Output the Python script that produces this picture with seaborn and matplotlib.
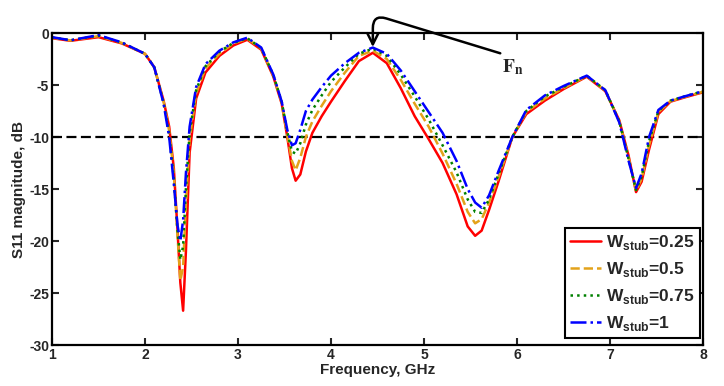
import numpy as np
import pandas as pd
import matplotlib
matplotlib.use("Agg")
import matplotlib.pyplot as plt
import seaborn as sns

# Dados (S11 em dB)
freq = [1.0, 1.2, 1.5, 1.75, 2.0, 2.1, 2.2, 2.26, 2.31, 2.35, 2.38, 2.41, 2.44, 2.48,
        2.55, 2.65, 2.8, 2.95, 3.1, 3.25, 3.38, 3.47, 3.53, 3.58, 3.62, 3.67, 3.73, 3.8,
        3.9, 4.0, 4.15, 4.3, 4.45, 4.6, 4.75, 4.9, 5.05, 5.2, 5.35, 5.47, 5.55, 5.62,
        5.7, 5.8, 5.95, 6.1, 6.3, 6.5, 6.75, 6.95, 7.1, 7.2, 7.28, 7.34, 7.42, 7.52,
        7.65, 7.8, 8.0]

s11_025 = [-0.5, -0.75, -0.4, -1.0, -2.0, -3.3, -6.5, -9.0, -13.0, -19.0, -24.0, -26.7, -21.0, -11.5,
           -6.3, -3.8, -2.2, -1.2, -0.65, -1.6, -4.2, -6.8, -10.0, -13.0, -14.2, -13.6, -11.4, -9.6,
           -8.0, -6.6, -4.6, -2.7, -1.9, -2.9, -5.3, -8.0, -10.2, -12.5, -15.5, -18.6, -19.5, -19.0,
           -17.0, -14.3, -10.0, -7.8, -6.5, -5.4, -4.2, -5.6, -8.4, -11.8, -15.3, -14.3, -11.2, -7.8,
           -6.6, -6.2, -5.7]

s11_05 = [-0.45, -0.72, -0.3, -0.95, -2.0, -3.3, -6.6, -9.4, -13.5, -19.5, -23.8, -22.5, -16.5, -10.2,
          -5.8, -3.4, -2.0, -1.0, -0.55, -1.5, -4.1, -6.7, -9.8, -12.3, -13.2, -12.0, -10.0, -8.5,
          -7.0, -5.6, -3.8, -2.2, -1.7, -2.5, -4.5, -6.8, -9.0, -11.6, -14.5, -17.2, -18.3, -17.9,
          -16.3, -13.9, -10.0, -7.6, -6.3, -5.3, -4.15, -5.55, -8.5, -12.0, -15.2, -14.0, -10.8, -7.6,
          -6.55, -6.15, -5.65]

s11_075 = [-0.42, -0.7, -0.25, -0.92, -2.0, -3.3, -6.7, -9.7, -14.0, -19.0, -21.8, -20.5, -15.0, -9.6,
           -5.5, -3.2, -1.8, -0.95, -0.5, -1.45, -4.05, -6.6, -9.5, -11.4, -11.6, -10.6, -8.8, -7.4,
           -6.0, -4.7, -3.3, -2.0, -1.5, -2.2, -4.0, -6.1, -8.3, -10.8, -13.4, -16.0, -17.2, -17.3,
           -16.0, -13.6, -10.0, -7.5, -6.1, -5.2, -4.1, -5.5, -8.5, -12.1, -15.1, -13.8, -10.4, -7.5,
           -6.5, -6.1, -5.6]

s11_1 = [-0.4, -0.7, -0.2, -0.9, -2.0, -3.3, -6.8, -10.0, -14.5, -18.5, -20.0, -18.0, -13.5, -9.0,
         -5.2, -3.0, -1.7, -0.9, -0.45, -1.4, -4.0, -6.6, -9.3, -10.8, -10.6, -9.3, -7.5, -6.4,
         -5.2, -4.1, -2.9, -1.9, -1.4, -2.0, -3.6, -5.6, -7.6, -9.6, -12.3, -15.0, -16.3, -16.8,
         -15.6, -13.3, -10.0, -7.4, -6.0, -5.1, -4.1, -5.5, -8.6, -12.3, -14.9, -13.5, -10.0, -7.4,
         -6.5, -6.1, -5.6]

series = [
    (r"W$_{\mathbf{stub}}$=0.25", s11_025, "#ff0000", "-"),
    (r"W$_{\mathbf{stub}}$=0.5", s11_05, "#e3a21a", "--"),
    (r"W$_{\mathbf{stub}}$=0.75", s11_075, "#008000", ":"),
    (r"W$_{\mathbf{stub}}$=1", s11_1, "#0000ff", "-."),
]

sns.set_style("ticks")
plt.rcParams["font.family"] = ["Liberation Sans", "DejaVu Sans"]
plt.rcParams["font.weight"] = "bold"
plt.rcParams["axes.unicode_minus"] = False
plt.rcParams["mathtext.fontset"] = "custom"
plt.rcParams["mathtext.rm"] = "Liberation Sans:bold"
plt.rcParams["mathtext.bf"] = "Liberation Sans:bold"

fig = plt.figure(figsize=(7.24, 3.86), dpi=100)
ax = fig.add_axes([0.0718, 0.1062, 0.8992, 0.8083])

for nome, vals, cor, estilo in series:
    df = pd.DataFrame({"f": freq, "s11": vals})
    sns.lineplot(data=df, x="f", y="s11", color=cor, linestyle=estilo, lw=1.8,
                 label=nome, ax=ax, sort=False)

ax.axhline(-10, color="black", lw=1.6, ls="--", dashes=(4.5, 2), zorder=1)

ax.set_xlim(1, 8)
ax.set_ylim(-30, 0)
ax.set_xticks(range(1, 9))
ax.set_yticks(range(-30, 1, 5))
ax.tick_params(direction="in", top=True, right=True, length=5, width=1.5,
               labelsize=10, pad=2)
for sp in ax.spines.values():
    sp.set_linewidth(1.6)
    sp.set_color("black")
ax.set_xlabel("Frequency, GHz", fontsize=11, fontweight="bold", labelpad=1)
ax.set_ylabel("S11 magnitude, dB", fontsize=11, fontweight="bold", labelpad=2)

# Anotação F_n
ax.annotate("", xy=(4.45, -1.35), xytext=(5.82, -1.95), annotation_clip=False,
            arrowprops=dict(arrowstyle="->", color="black", lw=1.8, mutation_scale=20,
                            connectionstyle="angle,angleA=163,angleB=90,rad=14",
                            shrinkA=0, shrinkB=0))
ax.text(5.95, -3.3, r"$\mathrm{F_n}$", fontsize=14, ha="center", va="center",
        math_fontfamily="stix")

leg = ax.legend(loc="lower right", bbox_to_anchor=(0.995, 0.022), borderaxespad=0,
                fancybox=False, edgecolor="black", framealpha=1, fontsize=12.5,
                handlelength=1.8, handletextpad=0.3, labelspacing=0.45,
                borderpad=0.3)
leg.get_frame().set_linewidth(1.5)

fig.savefig("out.png", dpi=100)
